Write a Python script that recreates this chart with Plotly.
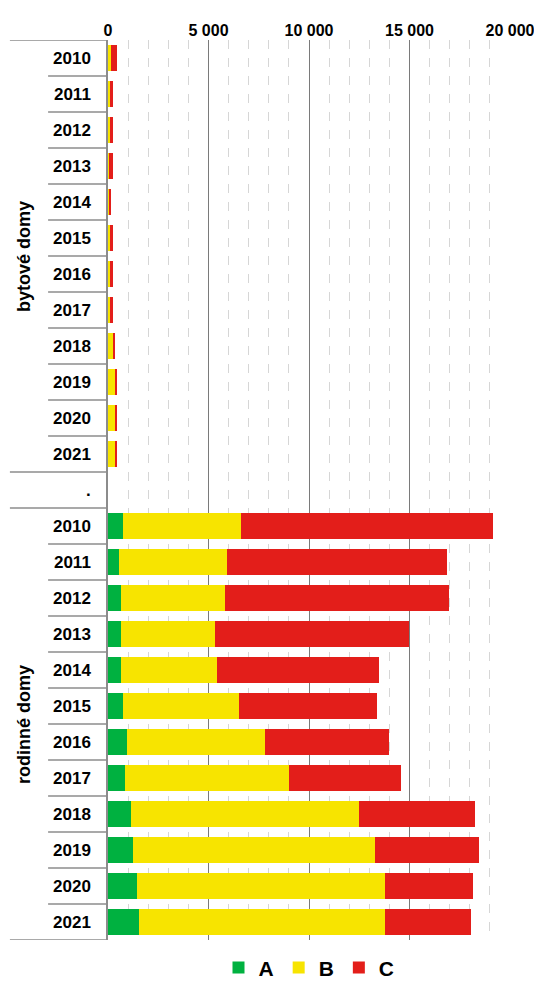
import plotly.graph_objects as go

# years shown in each group
years = ["2010", "2011", "2012", "2013", "2014", "2015",
         "2016", "2017", "2018", "2019", "2020", "2021"]
groups = ["bytové domy", "rodinné domy"]

# bytové domy (apartment buildings)
byt_a = [20, 10, 10, 10, 5, 10, 10, 10, 20, 20, 20, 20]
byt_b = [110, 90, 90, 40, 25, 100, 100, 100, 230, 330, 330, 330]
byt_c = [320, 130, 130, 200, 120, 140, 140, 120, 100, 100, 100, 100]

# rodinné domy (family houses)
rod_a = [750, 530, 630, 630, 630, 730, 930, 830, 1130, 1230, 1430, 1530]
rod_b = [5870, 5390, 5170, 4690, 4790, 5770, 6880, 8160, 11360, 12050, 12350, 12250]
rod_c = [12530, 10945, 11150, 9650, 8040, 6880, 6170, 5590, 5770, 5170, 4380, 4280]

series_names = ["A", "B", "C"]
colors = ["#00b140", "#f7e400", "#e31e1a"]

# one row per year, a spacer row "." between the two groups
labels = years + ["."] + years
rows = list(range(len(labels)))
vals = [byt_a + [None] + rod_a,
        byt_b + [None] + rod_b,
        byt_c + [None] + rod_c]

fig = go.Figure()
for name, color, v in zip(series_names, colors, vals):
    fig.add_trace(go.Bar(y=rows, x=v, name=name, orientation="h",
                         marker=dict(color=color, line=dict(width=0))))

font = "Liberation Sans, Arial, sans-serif"

# row separators in the label area
n = len(labels)
grey = "#8c8c8c"
for i in range(n + 1):
    b = i - 0.5
    long_line = i in (0, 12, 13, n)
    fig.add_shape(type="line", xref="paper", yref="y",
                  x0=-0.244 if long_line else -0.149, x1=0, y0=b, y1=b,
                  line=dict(color=grey, width=1.5))

# rotated group labels
for g, yc in zip(groups, [5.5, 18.5]):
    fig.add_annotation(text=g, xref="paper", yref="y", x=-0.209, y=yc,
                       xanchor="center", yanchor="middle",
                       textangle=-90, showarrow=False,
                       font=dict(family=font, size=18, color="black", weight="bold"))

# page body has an 8px margin, so the figure is 8px smaller
fig.update_layout(
    width=534, height=974,
    margin=dict(l=100, r=32, t=32, b=42),
    plot_bgcolor="white", paper_bgcolor="white",
    barmode="stack", bargap=0.28,
    font=dict(family=font, size=14, color="black"),
    legend=dict(orientation="h", x=0.5, xanchor="center",
                yref="container", y=0.0144, yanchor="middle",
                traceorder="normal",
                font=dict(family=font, size=21, color="black", weight="bold"),
                itemwidth=30, tracegroupgap=0),
    xaxis=dict(side="top", range=[0, 20000], tickvals=[0, 5000, 10000, 15000, 20000],
               ticktext=["0", "5 000", "10 000", "15 000", "20 000"],
               tickfont=dict(family=font, size=16, color="black", weight="bold"),
               showgrid=True, gridcolor="#7a7a7a", gridwidth=1,
               zeroline=False, showline=False, ticks="", automargin=False,
               minor=dict(dtick=1000, showgrid=True, gridcolor="#d6d6d6",
                          griddash="dash", gridwidth=1)),
    yaxis=dict(range=[n - 0.5, -0.5], tickvals=rows, ticktext=labels,
               tickfont=dict(family=font, size=17, color="black", weight="bold"),
               showgrid=False, zeroline=False, showline=True, automargin=False,
               linecolor=grey, linewidth=1.5, ticks="", ticklabelstandoff=12),
)

fig.write_html("out.html")
